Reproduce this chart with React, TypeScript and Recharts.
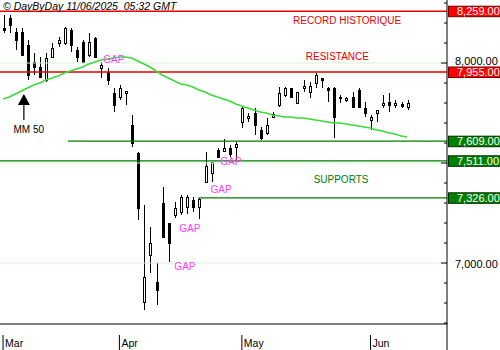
import React from 'react';
import {
  ComposedChart,
  Bar,
  Line,
  XAxis,
  YAxis,
  ReferenceLine,
  ReferenceDot,
} from 'recharts';

// CAC 40 daily candles, 5 Mar - 10 Jun 2025
const dates = [
  '2025-03-05', '2025-03-06', '2025-03-07', '2025-03-10', '2025-03-11', '2025-03-12', '2025-03-13',
  '2025-03-14', '2025-03-17', '2025-03-18', '2025-03-19', '2025-03-20', '2025-03-21', '2025-03-24',
  '2025-03-25', '2025-03-26', '2025-03-27', '2025-03-28', '2025-03-31',
  '2025-04-01', '2025-04-02', '2025-04-03', '2025-04-04', '2025-04-07', '2025-04-08', '2025-04-09',
  '2025-04-10', '2025-04-11', '2025-04-14', '2025-04-15', '2025-04-16', '2025-04-17', '2025-04-22',
  '2025-04-23', '2025-04-24', '2025-04-25', '2025-04-28', '2025-04-29', '2025-04-30',
  '2025-05-02', '2025-05-05', '2025-05-06', '2025-05-07', '2025-05-08', '2025-05-09', '2025-05-12',
  '2025-05-13', '2025-05-14', '2025-05-15', '2025-05-16', '2025-05-19', '2025-05-20', '2025-05-21',
  '2025-05-22', '2025-05-23', '2025-05-26', '2025-05-27', '2025-05-28', '2025-05-29', '2025-05-30',
  '2025-06-02', '2025-06-03', '2025-06-04', '2025-06-05', '2025-06-06', '2025-06-09', '2025-06-10',
];

const opens = [
  8175, 8225, 8155, 8155, 8090, 8005, 7980, 7915, 8030, 8100, 8100, 8165, 8065, 8105, 8040, 8125, 7975, 7955, 7850,
  7830, 7850, 7690, 7550, 6805, 7040, 6905, 7300, 7200, 7240, 7255, 7280, 7315, 7280, 7405, 7450, 7565, 7560, 7575, 7580,
  7705, 7725, 7750, 7665, 7650, 7730, 7790, 7840, 7875, 7800, 7875, 7855, 7900, 7925, 7875, 7875, 7830, 7815, 7830, 7865, 7775,
  7715, 7750, 7790, 7805, 7790, 7795, 7780,
];
const highs = [
  8240, 8240, 8175, 8175, 8115, 8050, 8030, 8050, 8100, 8130, 8180, 8175, 8080, 8115, 8150, 8130, 8005, 7975, 7875,
  7890, 7860, 7740, 7555, 7290, 7180, 7000, 7380, 7200, 7305, 7340, 7340, 7330, 7325, 7555, 7505, 7575, 7620, 7590, 7605,
  7780, 7750, 7775, 7680, 7725, 7755, 7880, 7880, 7875, 7855, 7915, 7905, 7950, 7925, 7880, 7880, 7840, 7830, 7855, 7875, 7805,
  7740, 7765, 7840, 7850, 7815, 7805, 7815,
];
const lows = [
  8150, 8150, 8065, 8040, 7915, 7940, 7925, 7905, 8025, 8080, 8090, 8055, 8005, 8000, 8030, 8025, 7925, 7890, 7755,
  7815, 7790, 7580, 7215, 6765, 6950, 6790, 7130, 7005, 7225, 7240, 7245, 7255, 7220, 7405, 7405, 7525, 7560, 7530, 7515,
  7675, 7705, 7640, 7615, 7640, 7725, 7780, 7830, 7825, 7800, 7855, 7825, 7875, 7875, 7805, 7625, 7800, 7805, 7775, 7775, 7730,
  7665, 7705, 7775, 7755, 7775, 7775, 7765,
];
const closes = [
  8165, 8190, 8115, 8040, 7940, 7980, 7930, 8025, 8075, 8115, 8175, 8090, 8030, 8005, 8105, 8030, 7990, 7915, 7790,
  7875, 7860, 7600, 7275, 6930, 7100, 6865, 7130, 7100, 7275, 7330, 7330, 7280, 7320, 7485, 7505, 7530, 7575, 7545, 7595,
  7775, 7735, 7690, 7625, 7690, 7745, 7850, 7875, 7830, 7855, 7885, 7885, 7940, 7915, 7865, 7730, 7825, 7825, 7780, 7780, 7750,
  7730, 7765, 7800, 7790, 7800, 7785, 7800,
];
const ma50 = [
  7820, 7830, 7845, 7860, 7875, 7890, 7900, 7915, 7925, 7935, 7950, 7960, 7970, 7980, 7995, 8005, 8015, 8020, 8025,
  8030, 8030, 8025, 8010, 7995, 7980, 7960, 7940, 7925, 7910, 7895, 7890, 7880, 7865, 7855, 7840, 7830, 7820, 7810, 7795,
  7785, 7775, 7765, 7755, 7750, 7740, 7735, 7730, 7730, 7725, 7725, 7720, 7715, 7710, 7705, 7700, 7700, 7695, 7690, 7685, 7680,
  7675, 7665, 7660, 7650, 7645, 7635, 7630,
];

const recordHigh = 8259;
const resistance = 7955;
const supports = [7609, 7511, 7326];
const gridLevels = [8000, 7500, 7000];
const yTicks = [6700, 6800, 6900, 7000, 7100, 7200, 7300, 7400, 7500, 7600, 7700, 7800, 7900, 8000, 8100, 8200, 8300];
const MONTHS = ['Jan', 'Feb', 'Mar', 'Apr', 'May', 'Jun', 'Jul', 'Aug', 'Sep', 'Oct', 'Nov', 'Dec'];

const data = dates.map((d, i) => ({
  i,
  date: d,
  open: opens[i],
  high: highs[i],
  low: lows[i],
  close: closes[i],
  range: [lows[i], highs[i]],
  ma: ma50[i],
}));

// first candle of each month gets a tick
const monthTicks = dates
  .map((d, i) => (i === 0 || d.slice(5, 7) !== dates[i - 1].slice(5, 7) ? i : -1))
  .filter((i) => i >= 0);

const FONT = '"Liberation Sans", Arial, sans-serif';
const RED = '#e60000';
const GREEN = '#007d00';
const fmt = (v: number) => v.toLocaleString('en-US', { minimumFractionDigits: 2, maximumFractionDigits: 2 });

const Candle = (props: any) => {
  const { x, y, width, height, payload } = props;
  if (x == null || y == null) return null;
  const top = Math.min(y, y + height);
  const h = Math.abs(height);
  const cx = Math.round(x + width / 2) + 0.5;
  const { open, close, high, low } = payload;
  const toY = (v: number) => top + ((high - v) / (high - low || 1)) * h;
  const bTop = Math.round(toY(Math.max(open, close))) + 0.5;
  const bBot = Math.round(toY(Math.min(open, close))) + 0.5;
  const up = close >= open;
  return (
    <g>
      <line x1={cx} x2={cx} y1={top} y2={top + h} stroke="#000" strokeWidth={1} />
      <rect
        x={cx - 1}
        y={bTop}
        width={2}
        height={Math.max(bBot - bTop, 1)}
        fill={up ? '#fff' : '#000'}
        stroke="#000"
        strokeWidth={1}
      />
    </g>
  );
};

const PriceTag = ({ viewBox, value, fill, edge }: any) => {
  if (!viewBox) return null;
  const x = viewBox.x + viewBox.width + 1;
  const y = viewBox.y;
  return (
    <g>
      <rect x={x + 0.5} y={y - 5} width={60} height={10.5} fill={fill} stroke={edge} />
      <text x={x + 9} y={y + 4} fill="#fff" fontSize={11} fontFamily={FONT}>
        {fmt(value)}
      </text>
    </g>
  );
};

const YTick = ({ x, y, payload }: any) => {
  const v = payload.value;
  const major = v % 500 === 0;
  // the 8,000 label sits just above the resistance tag
  const dy = v === 8000 ? 1.5 : 4.5;
  return (
    <g>
      <line x1={x - (major ? 6 : 3)} x2={x} y1={y} y2={y} stroke="#000" />
      {v === yTicks[0] && <line x1={x} x2={x} y1={y} y2={y + 30} stroke="#000" />}
      {v % 1000 === 0 && (
        <text x={x + 8} y={y + dy} fontSize={11} fontFamily={FONT} fill="#000">
          {fmt(v)}
        </text>
      )}
    </g>
  );
};

const MonthTick = ({ x, y, payload }: any) => {
  const d = dates[payload.value];
  const label = d ? MONTHS[parseInt(d.slice(5, 7), 10) - 1] : '';
  return (
    <g>
      <line x1={x} x2={x} y1={y + 11} y2={y + 26} stroke="#000" />
      <text x={x + 2} y={y + 23} fontSize={10.5} fontFamily={FONT} fill="#000">
        {label}
      </text>
    </g>
  );
};

const note = (text: string, color: string) => (p: any) => (
  <text x={p.cx} y={p.cy} dy={3.5} textAnchor="middle" fill={color} fontSize={10} fontFamily={FONT}>
    {text}
  </text>
);

const UpArrow = (p: any) => (
  <g>
    <polygon points={`${p.cx},${p.cy} ${p.cx - 6},${p.cy + 11} ${p.cx + 6},${p.cy + 11}`} fill="#000" />
    <line x1={p.cx} x2={p.cx} y1={p.cy + 10} y2={p.cy + 26} stroke="#000" strokeWidth={1.2} />
  </g>
);

export default function App() {
  return (
    <div style={{ position: 'absolute', left: 0, top: 0, width: 500, height: 350, background: '#fff' }}>
      <div
        style={{
          position: 'absolute',
          left: 3,
          top: 0,
          fontFamily: FONT,
          fontStyle: 'italic',
          fontSize: 10.5,
          lineHeight: '12px',
          whiteSpace: 'pre',
          color: '#000',
          zIndex: 2,
        }}
      >
        {'© DayByDay 11/06/2025  05:32 GMT'}
      </div>
      <ComposedChart width={500} height={350} data={data} margin={{ top: 0, right: 0, left: 0, bottom: 0 }}>
        <XAxis
          dataKey="i"
          type="number"
          domain={[-0.5, 72.5]}
          ticks={monthTicks}
          interval={0}
          height={26}
          tickSize={0}
          tickMargin={0}
          tickLine={false}
          axisLine={{ stroke: '#000' }}
          tick={<MonthTick />}
        />
        <YAxis
          orientation="right"
          width={53}
          domain={[6695, 8315]}
          ticks={yTicks}
          interval={0}
          tickSize={0}
          tickMargin={0}
          tickLine={false}
          axisLine={{ stroke: '#000' }}
          tick={<YTick />}
        />
        {gridLevels.map((v) => (
          <ReferenceLine key={v} y={v} stroke="#d8f0d4" strokeWidth={1} />
        ))}
        <ReferenceLine
          y={recordHigh}
          stroke={RED}
          strokeWidth={1.5}
          label={<PriceTag value={recordHigh} fill="#ff0000" edge="#700000" />}
        />
        <ReferenceLine
          y={resistance}
          stroke={RED}
          strokeWidth={1.5}
          label={<PriceTag value={resistance} fill="#ff0000" edge="#700000" />}
        />
        <ReferenceLine
          segment={[{ x: 10.6, y: supports[0] }, { x: 72.5, y: supports[0] }]}
          stroke={GREEN}
          strokeWidth={1.2}
          label={<PriceTag value={supports[0]} fill="#008000" edge="#002a00" />}
        />
        <ReferenceLine
          y={supports[1]}
          stroke={GREEN}
          strokeWidth={1.2}
          label={<PriceTag value={supports[1]} fill="#008000" edge="#002a00" />}
        />
        <ReferenceLine
          segment={[{ x: 31.9, y: supports[2] }, { x: 72.5, y: supports[2] }]}
          stroke={GREEN}
          strokeWidth={1.2}
          label={<PriceTag value={supports[2]} fill="#008000" edge="#002a00" />}
        />
        <Line
          dataKey="ma"
          stroke="#3ada3a"
          strokeWidth={1.5}
          dot={false}
          activeDot={false}
          isAnimationActive={false}
        />
        <Bar dataKey="range" barSize={3} shape={<Candle />} isAnimationActive={false} />
        <ReferenceDot x={56.2} y={8215} r={0} shape={note('RECORD HISTORIQUE', RED)} />
        <ReferenceDot x={54.6} y={8035} r={0} shape={note('RESISTANCE', RED)} />
        <ReferenceDot x={55.2} y={7420} r={0} shape={note('SUPPORTS', GREEN)} />
        <ReferenceDot x={18.1} y={8020} r={0} shape={note('GAP', '#ff3cff')} />
        <ReferenceDot x={37.2} y={7510} r={0} shape={note('GAP', '#ff3cff')} />
        <ReferenceDot x={35.6} y={7370} r={0} shape={note('GAP', '#ff3cff')} />
        <ReferenceDot x={30.5} y={7175} r={0} shape={note('GAP', '#ff3cff')} />
        <ReferenceDot x={29.7} y={6985} r={0} shape={note('GAP', '#ff3cff')} />
        <ReferenceDot x={4.2} y={7670} r={0} shape={note('MM 50', '#000')} />
        <ReferenceDot x={3.4} y={7845} r={0} shape={UpArrow} />
      </ComposedChart>
    </div>
  );
}
